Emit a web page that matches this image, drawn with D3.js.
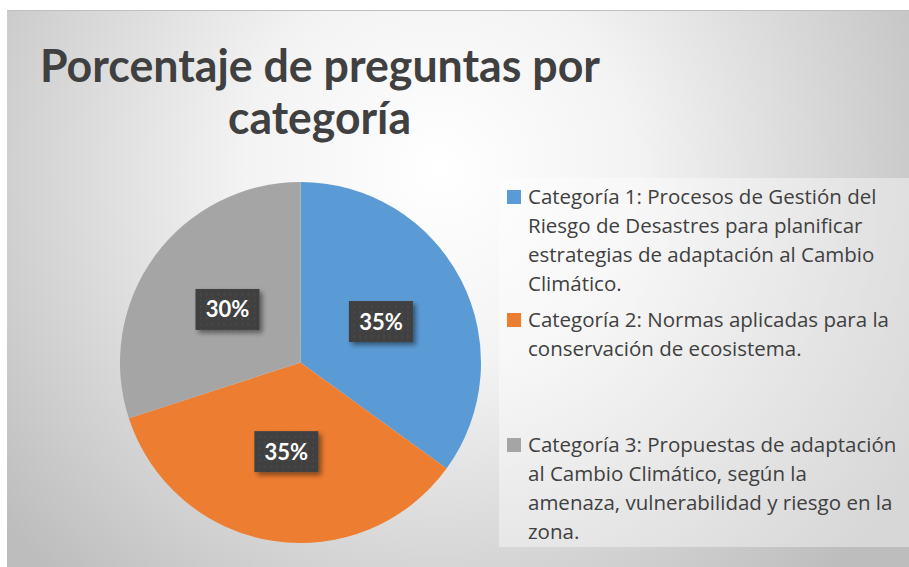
<!DOCTYPE html>
<html>
<head>
<meta charset="utf-8">
<script src="https://cdn.jsdelivr.net/npm/d3@7"></script>
<style>
  html, body { margin: 0; padding: 0; background: #ffffff; }
  svg { display: block; }
</style>
</head>
<body>
<div id="chart"></div>
<script>
// data
var categories = ["Categoría 1", "Categoría 2", "Categoría 3"];
var values = [35, 35, 30];
var colors = ["#5b9bd5", "#ed7d31", "#a5a5a5"];
var legendLines = [
    ["Categoría 1: Procesos de Gestión del", "Riesgo de Desastres para planificar", "estrategias de adaptación al Cambio", "Climático."],
    ["Categoría 2: Normas aplicadas para la", "conservación de ecosistema."],
    ["Categoría 3: Propuestas de adaptación", "al Cambio Climático, según la", "amenaza, vulnerabilidad y riesgo en la", "zona."]
];
var titleLines = ["Porcentaje de preguntas por", "categoría"];

var width = 909, height = 567;
var font = "Lato, 'Open Sans', 'DejaVu Sans', sans-serif";

var svg = d3.select("#chart").append("svg")
    .attr("width", width)
    .attr("height", height);

var defs = svg.append("defs");

// chart area background gradient
var bg = defs.append("radialGradient")
    .attr("id", "bg")
    .attr("gradientUnits", "userSpaceOnUse")
    .attr("cx", 440).attr("cy", 170).attr("r", 560);
bg.append("stop").attr("offset", "0%").attr("stop-color", "#ffffff");
bg.append("stop").attr("offset", "35%").attr("stop-color", "#f3f3f3");
bg.append("stop").attr("offset", "100%").attr("stop-color", "#bdbdbd");

// dotted pattern for data labels
var pat = defs.append("pattern")
    .attr("id", "dots")
    .attr("patternUnits", "userSpaceOnUse")
    .attr("width", 6).attr("height", 6);
pat.append("rect").attr("width", 6).attr("height", 6).attr("fill", "#404040");
pat.append("circle").attr("cx", 3).attr("cy", 3).attr("r", 1).attr("fill", "#4c4c4c");

var shadow = defs.append("filter").attr("id", "shadow")
    .attr("x", "-30%").attr("y", "-30%").attr("width", "160%").attr("height", "160%");
shadow.append("feDropShadow")
    .attr("dx", 3).attr("dy", 3).attr("stdDeviation", 2.5)
    .attr("flood-color", "#000").attr("flood-opacity", 0.45);

svg.append("rect")
    .attr("x", 7).attr("y", 10)
    .attr("width", width - 7).attr("height", height - 10)
    .attr("fill", "url(#bg)");
svg.append("line")
    .attr("x1", 7).attr("x2", width).attr("y1", 10.5).attr("y2", 10.5)
    .attr("stroke", "#bfbfbf").attr("stroke-width", 1);

// title
var titlePos = [{x: 40, y: 82, w: 560}, {x: 228, y: 134, w: 183}];
svg.selectAll(".title").data(titleLines).enter().append("text")
    .attr("class", "title")
    .attr("x", function (d, i) { return titlePos[i].x; })
    .attr("y", function (d, i) { return titlePos[i].y; })
    .attr("textLength", function (d, i) { return titlePos[i].w; })
    .attr("lengthAdjust", "spacingAndGlyphs")
    .style("font-family", font)
    .style("font-weight", "bold")
    .style("font-size", "46px")
    .attr("fill", "#404040")
    .text(function (d) { return d; });

// pie
var cx = 300.5, cy = 362.5, r = 180.5;
var pie = d3.pie().sort(null).value(function (d) { return d; });
var arc = d3.arc().innerRadius(0).outerRadius(r);
var arcs = pie(values);

var g = svg.append("g").attr("transform", "translate(" + cx + "," + cy + ")");
g.selectAll("path").data(arcs).enter().append("path")
    .attr("d", arc)
    .attr("fill", function (d, i) { return colors[i]; });

// data labels
var lab = g.selectAll(".lab").data(arcs).enter().append("g")
    .attr("class", "lab")
    .attr("transform", function (d) {
        var c = arc.centroid(d);
        return "translate(" + c[0] + "," + c[1] + ")";
    });
lab.append("rect")
    .attr("x", -32).attr("y", -20.5)
    .attr("width", 64).attr("height", 41)
    .attr("fill", "url(#dots)")
    .attr("filter", "url(#shadow)");
lab.append("text")
    .attr("text-anchor", "middle")
    .attr("y", 8)
    .style("font-family", font)
    .style("font-weight", "bold")
    .style("font-size", "22px")
    .attr("fill", "#ffffff")
    .text(function (d) { return d.value + "%"; });

// legend
svg.append("rect")
    .attr("x", 499).attr("y", 178)
    .attr("width", width - 499).attr("height", 369)
    .attr("fill", "#ffffff").attr("fill-opacity", 0.4);

var legendTop = [204, 327, 452];
var lineStep = 29;
var legend = svg.selectAll(".legend").data(categories).enter().append("g")
    .attr("class", "legend")
    .attr("transform", function (d, i) { return "translate(507," + legendTop[i] + ")"; });
legend.append("rect")
    .attr("x", 0).attr("y", -14)
    .attr("width", 14).attr("height", 14)
    .attr("fill", function (d, i) { return colors[i]; });
legend.each(function (d, i) {
    d3.select(this).selectAll("text").data(legendLines[i]).enter().append("text")
        .attr("x", 21)
        .attr("y", function (t, j) { return j * lineStep; })
        .style("font-family", "'Open Sans', Lato, sans-serif")
        .style("font-size", "20.5px")
        .attr("fill", "#404040")
        .text(function (t) { return t; });
});
</script>
</body>
</html>
